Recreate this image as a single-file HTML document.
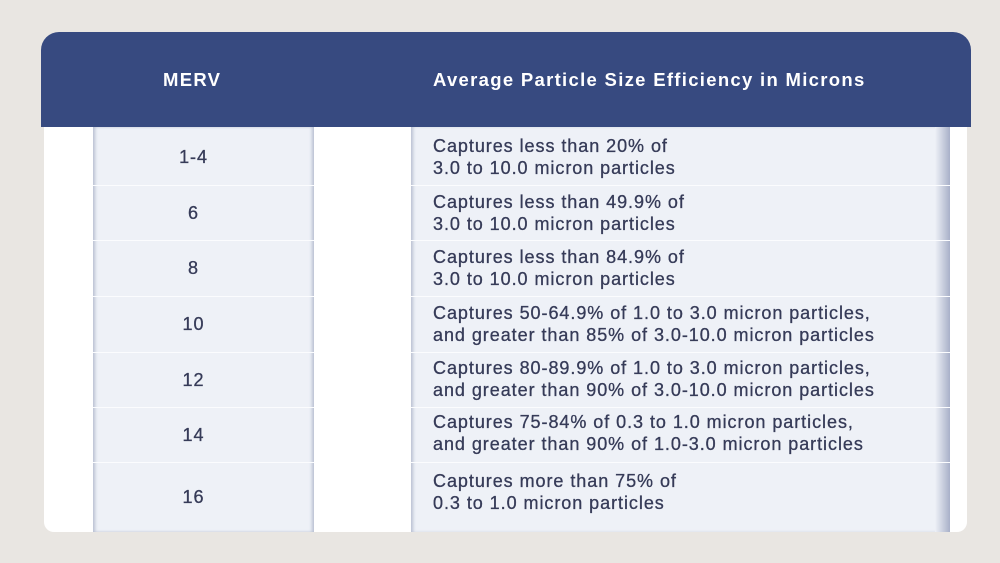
<!DOCTYPE html>
<html><head><style>
body{margin:0;width:1000px;height:563px;background:#e9e6e2;position:relative;overflow:hidden;font-family:"Liberation Sans",sans-serif;}
.card{position:absolute;left:44px;top:32px;width:923px;height:500px;background:#fff;border-radius:18px 18px 10px 10px;overflow:hidden;}
.hdr{position:absolute;left:41px;top:32px;width:930px;height:95px;background:#374a80;border-radius:18px 18px 0 0;color:#fff;font-size:18.5px;font-weight:bold;letter-spacing:1.3px;}
.hdr span{position:absolute;top:37px;}
.col{position:absolute;top:127px;height:405px;background:#eef1f7;}
.l{left:93px;width:221px;box-shadow:inset 3px 0 3px -1px #b8bfd2,inset -3px 0 3px -1px #b8bfd2;}
.r{left:411px;width:539px;box-shadow:inset 3px 0 3px -1px #b8bfd2;}
.edge{position:absolute;left:935px;top:127px;width:15px;height:405px;background:linear-gradient(90deg,#eef1f7,#a8b0c8);}
.sep{position:absolute;height:1px;background:#fbfcfe;}
.t{position:absolute;color:#363b58;font-size:18px;line-height:22px;letter-spacing:0.95px;-webkit-text-stroke:0.3px #363b58;}
.n{width:221px;left:83px;text-align:center;}
.d{left:433px;white-space:nowrap;}
</style></head><body>
<div class="card"></div>
<div class="hdr"><span style="left:122px">MERV</span><span style="left:392px">Average Particle Size Efficiency in Microns</span></div>
<div class="col l"></div>
<div class="col r"></div>
<div class="edge"></div>
<div class="sep" style="left:93px;width:221px;top:185px"></div><div class="sep" style="left:411px;width:539px;top:185px"></div>
<div class="sep" style="left:93px;width:221px;top:240px"></div><div class="sep" style="left:411px;width:539px;top:240px"></div>
<div class="sep" style="left:93px;width:221px;top:296px"></div><div class="sep" style="left:411px;width:539px;top:296px"></div>
<div class="sep" style="left:93px;width:221px;top:352px"></div><div class="sep" style="left:411px;width:539px;top:352px"></div>
<div class="sep" style="left:93px;width:221px;top:407px"></div><div class="sep" style="left:411px;width:539px;top:407px"></div>
<div class="sep" style="left:93px;width:221px;top:462px"></div><div class="sep" style="left:411px;width:539px;top:462px"></div>
<div class="t n" style="top:146px">1-4</div>
<div class="t n" style="top:202px">6</div>
<div class="t n" style="top:257px">8</div>
<div class="t n" style="top:313px">10</div>
<div class="t n" style="top:369px">12</div>
<div class="t n" style="top:424px">14</div>
<div class="t n" style="top:486px">16</div>
<div class="t d" style="top:135px">Captures less than 20% of<br>3.0 to 10.0 micron particles</div>
<div class="t d" style="top:191px">Captures less than 49.9% of<br>3.0 to 10.0 micron particles</div>
<div class="t d" style="top:246px">Captures less than 84.9% of<br>3.0 to 10.0 micron particles</div>
<div class="t d" style="top:302px">Captures 50-64.9% of 1.0 to 3.0 micron particles,<br>and greater than 85% of 3.0-10.0 micron particles</div>
<div class="t d" style="top:357px">Captures 80-89.9% of 1.0 to 3.0 micron particles,<br>and greater than 90% of 3.0-10.0 micron particles</div>
<div class="t d" style="top:411px">Captures 75-84% of 0.3 to 1.0 micron particles,<br>and greater than 90% of 1.0-3.0 micron particles</div>
<div class="t d" style="top:470px">Captures more than 75% of<br>0.3 to 1.0 micron particles</div>
</body></html>
